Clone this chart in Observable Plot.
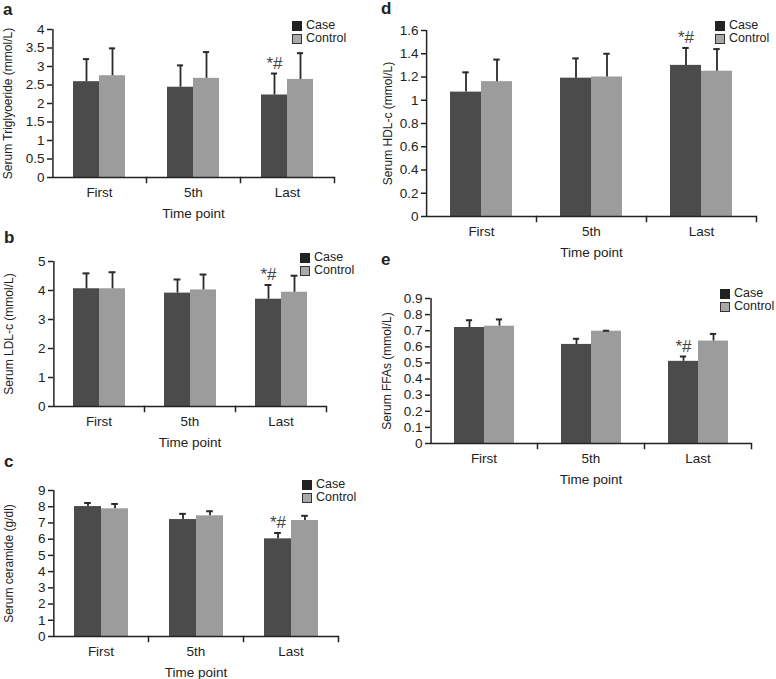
<!DOCTYPE html>
<html><head><meta charset="utf-8">
<script src="https://cdn.jsdelivr.net/npm/d3@7"></script>
<script src="https://cdn.jsdelivr.net/npm/@observablehq/plot@0.6"></script>
<style>
body{margin:0;background:#fff;}
#root{position:relative;width:776px;height:679px;overflow:hidden;font-family:"Liberation Sans",Arial,sans-serif;color:#222;background:#fff;}
.panel{position:absolute;}
.letter{position:absolute;font-weight:bold;font-size:17px;line-height:17px;}
.legend{position:absolute;font-size:12.5px;line-height:13px;}
.legend .row{display:flex;align-items:center;height:13px;line-height:13px;}
.sw{width:10px;height:10px;box-sizing:border-box;margin-right:4px;}
</style></head><body><div id="root"></div>
<script>
const timePoints = ["First", "5th", "Last"];
const groups = ["Case", "Control"];
const sigTime = "Last", sigGroup = "Case", sigLabel = "*#";

// a: Triglyceride
const tgCaseMean = [2.59, 2.44, 2.23], tgCaseSD = [0.61, 0.59, 0.58];
const tgCtrlMean = [2.75, 2.68, 2.65], tgCtrlSD = [0.74, 0.71, 0.71];
const tgTicks = [0, 0.5, 1, 1.5, 2, 2.5, 3, 3.5, 4];
// b: LDL-c
const ldlCaseMean = [4.06, 3.91, 3.70], ldlCaseSD = [0.53, 0.47, 0.49];
const ldlCtrlMean = [4.06, 4.02, 3.94], ldlCtrlSD = [0.57, 0.53, 0.57];
const ldlTicks = [0, 1, 2, 3, 4, 5];
// c: ceramide
const cerCaseMean = [8.01, 7.21, 6.02], cerCaseSD = [0.22, 0.35, 0.36];
const cerCtrlMean = [7.87, 7.44, 7.15], cerCtrlSD = [0.30, 0.28, 0.29];
const cerTicks = [0, 1, 2, 3, 4, 5, 6, 7, 8, 9];
// d: HDL-c
const hdlCaseMean = [1.07, 1.19, 1.30], hdlCaseSD = [0.17, 0.17, 0.15];
const hdlCtrlMean = [1.16, 1.20, 1.25], hdlCtrlSD = [0.19, 0.20, 0.19];
const hdlTicks = [0, 0.2, 0.4, 0.6, 0.8, 1, 1.2, 1.4, 1.6];
// e: FFAs
const ffaCaseMean = [0.72, 0.615, 0.51], ffaCaseSD = [0.045, 0.035, 0.03];
const ffaCtrlMean = [0.728, 0.697, 0.636], ffaCtrlSD = [0.042, 0.003, 0.044];
const ffaTicks = [0, 0.1, 0.2, 0.3, 0.4, 0.5, 0.6, 0.7, 0.8, 0.9];

const panels = [
  {letter: "a", yLabel: "Serum Triglyoeride (mmol/L)", cm: tgCaseMean, cs: tgCaseSD, km: tgCtrlMean, ks: tgCtrlSD, ticks: tgTicks,
   box: [0, 0, 380, 225], frame: [52, 334, 29, 177], letterPos: [3, 1], legendPos: [292, 19], labelOffset: 49},
  {letter: "b", yLabel: "Serum LDL-c (mmol/L)", cm: ldlCaseMean, cs: ldlCaseSD, km: ldlCtrlMean, ks: ldlCtrlSD, ticks: ldlTicks,
   box: [0, 225, 380, 225], frame: [52, 326, 261, 406], letterPos: [4, 229], legendPos: [300, 251], labelOffset: 49},
  {letter: "c", yLabel: "Serum ceramide (g/dl)", cm: cerCaseMean, cs: cerCaseSD, km: cerCtrlMean, ks: cerCtrlSD, ticks: cerTicks,
   box: [0, 450, 380, 229], frame: [52, 339, 490, 636], letterPos: [4, 453], legendPos: [302, 478], labelOffset: 49},
  {letter: "d", yLabel: "Serum HDL-c (mmol/L)", cm: hdlCaseMean, cs: hdlCaseSD, km: hdlCtrlMean, ks: hdlCtrlSD, ticks: hdlTicks,
   box: [380, 0, 396, 250], frame: [425, 756, 30, 216], letterPos: [381, 0], legendPos: [715, 19], labelOffset: 43},
  {letter: "e", yLabel: "Serum FFAs (mmol/L)", cm: ffaCaseMean, cs: ffaCaseSD, km: ffaCtrlMean, ks: ffaCtrlSD, ticks: ffaTicks,
   box: [380, 250, 396, 240], frame: [429, 752, 298, 443], letterPos: [381, 251], legendPos: [720, 287], labelOffset: 48}
];

const root = document.getElementById("root");
const FONT = '"Liberation Sans", Arial, sans-serif';
const caseColor = "#4b4b4b", ctrlColor = "#9c9c9c", ink = "#222";

for (const p of panels) {
  const [left, top, width, height] = p.box;
  const [x0, x1, y0, y1] = p.frame;
  const data = timePoints.flatMap((t, i) => [
    {time: t, group: "Case", mean: p.cm[i], upper: p.cm[i] + p.cs[i]},
    {time: t, group: "Control", mean: p.km[i], upper: p.km[i] + p.ks[i]}
  ]);
  const yMax = p.ticks[p.ticks.length - 1];
  const fh = y1 - y0;
  const pad = 0.75;
  const band = (x1 - x0) / 3;
  const bw = band / (2 + 2 * pad);
  const capInset = (bw - 7) / 2;
  const chart = Plot.plot({
    width, height,
    marginLeft: x0 - left, marginRight: left + width - x1,
    marginTop: y0 - top, marginBottom: top + height - y1,
    style: {fontFamily: FONT, fontSize: "13.5px", color: ink, background: "transparent", overflow: "visible"},
    fx: {domain: timePoints, padding: 0},
    x: {domain: groups, paddingInner: 0, paddingOuter: pad, axis: null},
    y: {domain: [0, yMax]},
    color: {domain: groups, range: [caseColor, ctrlColor]},
    marks: [
      Plot.barY(data, {fx: "time", x: "group", y: "mean", fill: "group"}),
      Plot.ruleX(data, {fx: "time", x: "group", y1: "mean", y2: "upper", stroke: "#2a2a2a", strokeWidth: 1.8}),
      Plot.tickY(data, {fx: "time", x: "group", y: "upper", stroke: "#2a2a2a", strokeWidth: 2, insetLeft: capInset, insetRight: capInset}),
      Plot.text(data.filter(d => d.time === sigTime && d.group === sigGroup),
        {fx: "time", x: "group", y: "upper", text: () => sigLabel, dy: -5, lineAnchor: "bottom", fontSize: 17, fill: "#444"}),
      Plot.ruleY([0], {stroke: ink, strokeWidth: 1.5}),
      Plot.frame({anchor: "right", insetTop: fh, insetBottom: -5, stroke: ink, strokeWidth: 1.5}),
      // y-axis line at the left edge of the first facet
      Plot.ruleX([{time: timePoints[0]}], {fx: "time", x: () => groups[0], y1: 0, y2: yMax,
        dx: -(pad + 0.5) * bw, stroke: ink, strokeWidth: 1.5}),
      Plot.axisY({ticks: p.ticks, tickFormat: d => String(d), tickSize: 5, tickPadding: 3, strokeWidth: 1.5,
        fontSize: 13.5, label: null}),
      Plot.axisY({ticks: [], tickSize: 0, label: p.yLabel, fontSize: 12,
        labelAnchor: "center", labelOffset: p.labelOffset, labelArrow: "none"}),
      Plot.axisFx({anchor: "bottom", tickSize: 0, tickPadding: 10, label: "Time point",
        labelAnchor: "center", labelOffset: 40, labelArrow: "none"})
    ]
  });
  const wrap = document.createElement("div");
  wrap.className = "panel";
  wrap.style.left = left + "px";
  wrap.style.top = top + "px";
  wrap.appendChild(chart);
  root.appendChild(wrap);

  const L = document.createElement("div");
  L.className = "letter";
  L.textContent = p.letter;
  L.style.left = p.letterPos[0] + "px";
  L.style.top = p.letterPos[1] + "px";
  root.appendChild(L);

  const lg = document.createElement("div");
  lg.className = "legend";
  lg.style.left = p.legendPos[0] + "px";
  lg.style.top = p.legendPos[1] + "px";
  groups.forEach((g, i) => {
    const row = document.createElement("div");
    row.className = "row";
    const sw = document.createElement("span");
    sw.className = "sw";
    if (i === 0) { sw.style.background = "#222"; }
    else { sw.style.background = "#a8a8a8"; sw.style.border = "1.5px solid #333"; }
    const tx = document.createElement("span");
    tx.textContent = g;
    row.appendChild(sw); row.appendChild(tx);
    lg.appendChild(row);
  });
  root.appendChild(lg);
}
</script></body></html>
